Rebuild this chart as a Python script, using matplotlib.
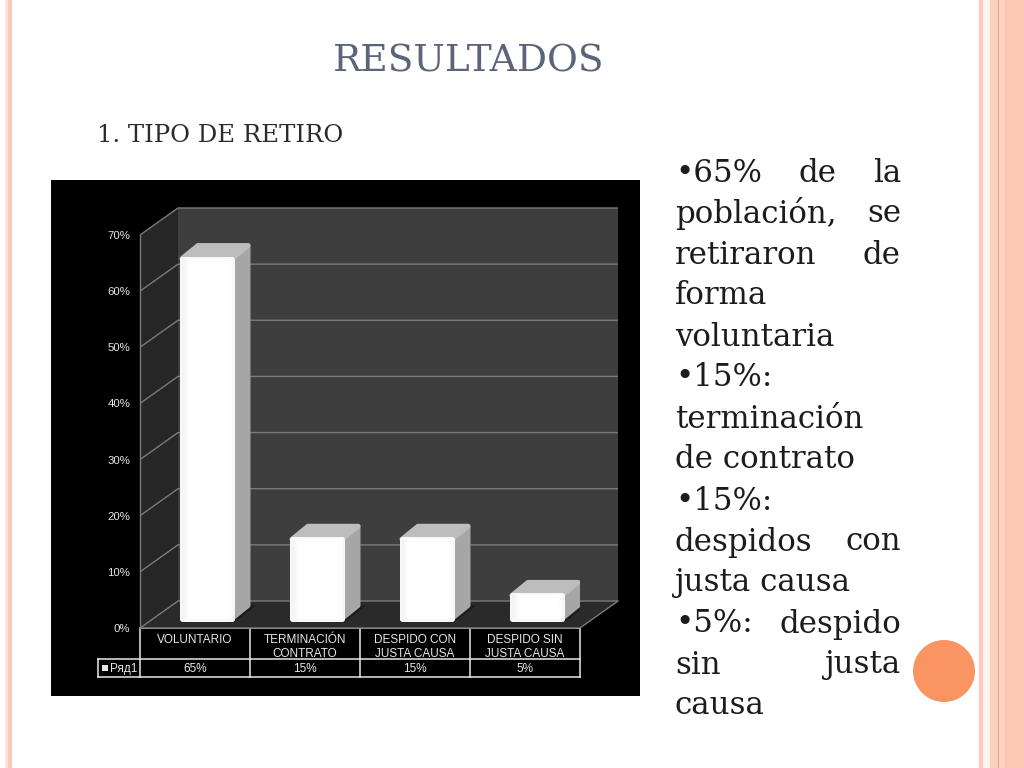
import numpy as np
import matplotlib
matplotlib.use("Agg")
import matplotlib.pyplot as plt
from matplotlib.patches import Polygon, Rectangle, Circle

categories = ["VOLUNTARIO", "TERMINACIÓN\nCONTRATO", "DESPIDO CON\nJUSTA CAUSA", "DESPIDO SIN\nJUSTA CAUSA"]
values = [65, 15, 15, 5]
value_labels = ["65%", "15%", "15%", "5%"]
series_name = "Ряд1"
y_ticks = [0, 10, 20, 30, 40, 50, 60, 70]

title = "RESULTADOS"
subtitle = "1. TIPO DE RETIRO"
body_lines = [
    "•65% de la", "población, se", "retiraron de", "forma", "voluntaria",
    "•15%:", "terminación", "de contrato", "•15%:", "despidos con",
    "justa causa", "•5%: despido", "sin justa", "causa",
]
justified = [True, True, True, False, False, False, False, False, False, True, False, True, True, False]

fig = plt.figure(figsize=(10.24, 7.68), dpi=100, facecolor="white")

# slide background in pixel coordinates
bg = fig.add_axes([0, 0, 1, 1])
bg.set_xlim(0, 1024)
bg.set_ylim(768, 0)
bg.axis("off")

stripes = [
    (5, 3, "#fbe3da"), (8, 4, "#fcc9b8"),
    (979, 4, "#fcc9b8"), (983, 7, "#fff4f0"), (990, 8, "#fdd0c0"),
    (998, 1, "#eea27a"), (999, 6, "#fdd3c4"), (1005, 2, "#fcc3b0"), (1007, 17, "#fdc9b5"),
]
for x0, w, c in stripes:
    bg.add_patch(Rectangle((x0, 0), w, 768, fc=c, ec="none"))
bg.add_patch(Circle((944, 671), 31, fc="#fb9463", ec="none"))
bg.add_patch(Rectangle((51, 180), 589, 516, fc="black", ec="none"))

bg.text(469, 62, title, family="DejaVu Serif", fontsize=27, color="#5b6478", ha="center", va="center")
bg.text(97, 135, subtitle, family="DejaVu Serif", fontsize=17.5, color="#2b2b2b", ha="left", va="center")

# justified body text, word by word
renderer = fig.canvas.get_renderer()
left, right = 675, 901
for i, (line, just) in enumerate(zip(body_lines, justified)):
    y = 173 + i * 41
    words = line.split()
    if not just:
        bg.text(left, y, line, family="DejaVu Serif", fontsize=22.2, color="#1c1c1c", ha="left", va="center")
        continue
    items = [bg.text(left, y, w, family="DejaVu Serif", fontsize=22.2, color="#1c1c1c", ha="left", va="center")
             for w in words]
    widths = [t.get_window_extent(renderer).width for t in items]
    gap = (right - left - sum(widths)) / (len(words) - 1)
    x = left
    for t, w in zip(items, widths):
        t.set_x(x)
        x += w + gap

# chart: axes frame is the front plane of the 3D box
plot_left, plot_right, plot_top, plot_bottom = 140, 580, 235, 628
ax = fig.add_axes([plot_left / 1024, 1 - plot_bottom / 768,
                   (plot_right - plot_left) / 1024, (plot_bottom - plot_top) / 768])
ax.patch.set_alpha(0)
ax.set_xlim(0, 4)
ax.set_ylim(0, 70)
ux = (plot_right - plot_left) / 4
uy = (plot_bottom - plot_top) / 70

wall_dx, wall_dy = 38 / ux, 27 / uy
ymax = y_ticks[-1]
ax.add_patch(Polygon([(wall_dx, wall_dy), (4 + wall_dx, wall_dy), (4 + wall_dx, ymax + wall_dy), (wall_dx, ymax + wall_dy)],
                     fc="#3e3e3e", ec="none", clip_on=False, zorder=1))
ax.add_patch(Polygon([(0, 0), (wall_dx, wall_dy), (wall_dx, ymax + wall_dy), (0, ymax)],
                     fc="#262626", ec="none", clip_on=False, zorder=1))
ax.add_patch(Polygon([(0, 0), (4, 0), (4 + wall_dx, wall_dy), (wall_dx, wall_dy)],
                     fc="#2a2a2a", ec="none", clip_on=False, zorder=1))
for t in y_ticks:
    ax.plot([0, wall_dx, 4 + wall_dx], [t, t + wall_dy, t + wall_dy], color="#7a7a7a", lw=1.0,
            clip_on=False, zorder=2, solid_capstyle="butt")
ax.plot([0, 4, 4 + wall_dx], [0, 0, wall_dy], color="#7a7a7a", lw=1.0, clip_on=False, zorder=2)

# bars, inset by the rounded stroke so the outer size still follows the value
bar_w = 55 / ux
bar_x = np.arange(len(values)) + 39.5 / ux + bar_w / 2
bar_lift = 7 / uy
side_dx, side_dy = 16 / ux, 13 / uy
ex, ey = 2.5 / ux, 2.5 / uy
grad = np.concatenate([np.linspace(0.95, 1, 8), np.ones(40), np.full(4, 0.99)]).reshape(1, -1)

bars = ax.bar(bar_x, np.array(values) - 2 * ey, width=bar_w - 2 * ex, bottom=bar_lift + ey,
              color="white", edgecolor="#f8f8f8", linewidth=3.6, joinstyle="round", zorder=5)
for rect, v in zip(bars, values):
    x0, x1 = rect.get_x() - ex, rect.get_x() + rect.get_width() + ex
    y0, y1 = bar_lift, bar_lift + v
    ax.add_patch(Polygon([(x0 + 0.02, y0 - 0.2), (x1, y0 - 0.2), (x1 + 0.2, y0 + 2.8), (x0 + 0.3, y0 + 2.8)],
                         fc="#1c1c1c", ec="none", zorder=3))
    ax.add_patch(Polygon([(x1 - ex, y0 + ey), (x1 + side_dx - ex, y0 + side_dy + ey),
                          (x1 + side_dx - ex, y1 + side_dy - ey), (x1 - ex, y1 - ey)],
                         fc="#a6a6a6", ec="#a6a6a6", lw=3.6, joinstyle="round", zorder=4))
    ax.add_patch(Polygon([(x0 + ex, y1 - ey), (x1 - ex, y1 - ey),
                          (x1 + side_dx - ex, y1 + side_dy - ey), (x0 + side_dx + ex, y1 + side_dy - ey)],
                         fc="#bdbdbd", ec="#bdbdbd", lw=3.6, joinstyle="round", zorder=4))
    im = ax.imshow(grad, extent=(rect.get_x(), rect.get_x() + rect.get_width(), y0 + ey, y1 - ey),
                   cmap="gray", vmin=0, vmax=1, aspect="auto", zorder=6)
ax.set_xlim(0, 4)
ax.set_ylim(0, 70)

ax.set_yticks(y_ticks)
ax.set_yticklabels([f"{t}%" for t in y_ticks], family="Liberation Sans", fontsize=8.2, color="#e6e6e6")
ax.tick_params(axis="y", length=0, pad=7)
ax.set_xticks([])
for side in ["top", "right", "bottom"]:
    ax.spines[side].set_visible(False)
ax.spines["left"].set_color("#7a7a7a")
ax.spines["left"].set_linewidth(1.0)

# data table below the plot
col_edges = [plot_left + i * ux for i in range(5)]
table_top, table_mid, table_bot, legend_left = 628, 659, 677, 98
line_kw = dict(color="#e8e8e8", lw=1.1, zorder=8)
bg.set_zorder(0)
ax.set_zorder(1)
bg.plot([col_edges[0], col_edges[-1]], [table_top, table_top], **line_kw)
bg.plot([legend_left, col_edges[-1]], [table_mid, table_mid], **line_kw)
bg.plot([legend_left, col_edges[-1]], [table_bot, table_bot], **line_kw)
bg.plot([legend_left, legend_left], [table_mid, table_bot], **line_kw)
for x in col_edges:
    bg.plot([x, x], [table_top, table_bot], **line_kw)
for i, (cat, lab) in enumerate(zip(categories, value_labels)):
    cx = (col_edges[i] + col_edges[i + 1]) / 2
    bg.text(cx, 647 if "\n" in cat else 640, cat, family="Liberation Sans", fontsize=8.5, color="#e6e6e6",
            ha="center", va="center", linespacing=1.25)
    bg.text(cx, 669, lab, family="Liberation Sans", fontsize=8.5, color="#e6e6e6", ha="center", va="center")
bg.add_patch(Rectangle((102, 665), 6, 6, fc="#e8e8e8", ec="none"))
bg.text(110, 669, series_name, family="Liberation Sans", fontsize=8.5, color="#e6e6e6", ha="left", va="center")

fig.savefig("out.png", dpi=100)
